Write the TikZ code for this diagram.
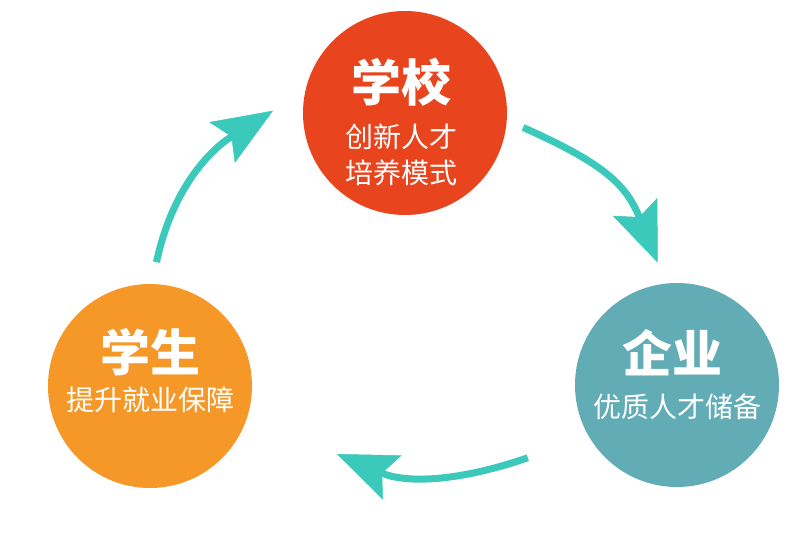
\documentclass[tikz,border=0pt]{standalone}
\usepackage{fontspec}
\setmainfont{Noto Sans CJK SC}
\usetikzlibrary{arrows.meta}
\definecolor{schoolred}{RGB}{232,68,30}
\definecolor{studentorange}{RGB}{245,152,40}
\definecolor{firmteal}{RGB}{98,172,182}
\definecolor{arrowteal}{RGB}{58,201,186}
\begin{document}
\begin{tikzpicture}[x=1pt,y=1pt, line join=round,
	disc/.style={circle, minimum size=204pt, inner sep=0pt, outer sep=0pt},
	title/.style={text=white, font=\fontsize{50}{50}\selectfont\bfseries, inner sep=0pt},
	sub/.style={text=white, font=\fontsize{28}{36}\selectfont, align=center, inner sep=0pt},
	flow/.style={draw=arrowteal, line width=7pt, -{Stealth[length=60pt, width=48pt, inset=11pt, line width=0.5pt]}}]
	\fill[white] (0,0) rectangle (800,535);
	\useasboundingbox (0,0) rectangle (800,535);
	\node[disc, fill=schoolred] (school) at (405,422) {};
	\node[disc, fill=firmteal] (firm) at (677,150) {};
	\node[disc, fill=studentorange] (student) at (150,149) {};
	\node[title] (schoolT) at ([xshift=-4pt,yshift=31pt]school.center) {学校};
	\node[sub] (schoolS) at ([xshift=-4pt,yshift=-42pt]school.center) {创新人才\\培养模式};
	\node[title] (studentT) at ([yshift=34pt]student.center) {学生};
	\node[sub] (studentS) at ([yshift=-14pt]student.center) {提升就业保障};
	\node[title] (firmT) at ([xshift=-5pt,yshift=32pt]firm.center) {企业};
	\node[sub] (firmS) at ([yshift=-22pt]firm.center) {优质人才储备};
	\draw[flow] ([shift={(-7:17)}]school.-7) to[out=-24, in=112, looseness=1.15] ([shift={(99:22)}]firm.99);
	\draw[flow] ([shift={(206:64)}]firm.206) to[out=199, in=-23] ([shift={(-20:97)}]student.-20);
	\draw[flow] ([shift={(87:22)}]student.87) to[out=78, in=212] ([shift={(179:30)}]school.179);
\end{tikzpicture}
\end{document}
